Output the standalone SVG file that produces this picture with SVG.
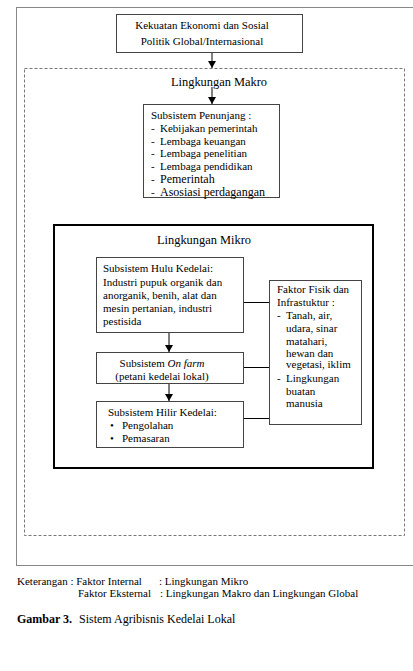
<svg xmlns="http://www.w3.org/2000/svg" width="413" height="671" viewBox="0 0 413 671">
<defs>
<marker id="ah" markerWidth="8" markerHeight="8" refX="7" refY="4" orient="auto" markerUnits="userSpaceOnUse">
<path d="M0,0 L7,4 L0,8 Z" fill="#000"/>
</marker>
<style>
text{font-family:"Liberation Serif","Times New Roman",serif;fill:#000}
.box{fill:#fff;stroke:#444;stroke-width:1}
.t11{font-size:11px}
.t12{font-size:12px}
.t13{font-size:12.4px}
.con{stroke:#000;stroke-width:1;fill:none}
.arr{stroke:#000;stroke-width:1;fill:none;marker-end:url(#ah)}
</style>
</defs>
<rect width="413" height="671" fill="#fff"/>
<g id="global-frame">
<rect x="16.5" y="7.5" width="410" height="558" fill="none" stroke="#888" stroke-width="1"/>
</g>
<g id="makro">
<rect x="24.5" y="68.5" width="380" height="467" fill="none" stroke="#777" stroke-width="1" stroke-dasharray="3,2"/>
<text x="219" y="86" class="t13" text-anchor="middle">Lingkungan Makro</text>
</g>
<g id="global">
<rect class="box" x="116.5" y="14.5" width="186" height="38"/>
<text x="202" y="29" class="t11" text-anchor="middle">Kekuatan Ekonomi dan Sosial</text>
<text x="202" y="45" class="t11" text-anchor="middle">Politik Global/Internasional</text>
</g>
<g id="penunjang">
<rect class="box" x="143.5" y="104.5" width="136" height="93"/>
<text x="151" y="119" class="t11">Subsistem Penunjang :</text>
<text x="151" y="132" class="t11">-</text><text x="160" y="132" class="t11">Kebijakan pemerintah</text>
<text x="151" y="145" class="t11">-</text><text x="160" y="145" class="t11">Lembaga keuangan</text>
<text x="151" y="157" class="t11">-</text><text x="160" y="157" class="t11">Lembaga penelitian</text>
<text x="151" y="170" class="t11">-</text><text x="160" y="170" class="t11">Lembaga pendidikan</text>
<text x="151" y="183" class="t11">-</text><text x="160" y="183" class="t12">Pemerintah</text>
<text x="151" y="196" class="t11">-</text><text x="160" y="196" class="t12">Asosiasi perdagangan</text>
</g>
<g id="mikro">
<rect x="54" y="225" width="319" height="243" fill="none" stroke="#000" stroke-width="2"/>
<text x="204" y="244" class="t13" text-anchor="middle">Lingkungan Mikro</text>
</g>
<g id="connectors">
<line class="arr" x1="212" y1="53" x2="212" y2="68"/>
<line class="arr" x1="212" y1="87" x2="212" y2="104"/>
<line class="arr" x1="169" y1="333" x2="169" y2="352"/>
<line class="arr" x1="169" y1="384" x2="169" y2="401"/>
<line class="con" x1="244" y1="302.5" x2="269" y2="302.5"/>
<line class="con" x1="244" y1="367.5" x2="269" y2="367.5"/>
<line class="con" x1="244" y1="418.5" x2="269" y2="418.5"/>
</g>
<g id="hulu">
<rect class="box" x="96.5" y="257.5" width="147" height="75"/>
<text x="103" y="272" class="t11">Subsistem Hulu Kedelai:</text>
<text x="103" y="286" class="t11">Industri pupuk organik dan</text>
<text x="103" y="299" class="t11">anorganik, benih, alat dan</text>
<text x="103" y="312" class="t11">mesin pertanian, industri</text>
<text x="103" y="325" class="t11">pestisida</text>
</g>
<g id="onfarm">
<rect class="box" x="96.5" y="352.5" width="147" height="31"/>
<text x="162" y="367" class="t11" text-anchor="middle">Subsistem <tspan font-style="italic">On farm</tspan></text>
<text x="162" y="380" class="t11" text-anchor="middle">(petani kedelai lokal)</text>
</g>
<g id="hilir">
<rect class="box" x="96.5" y="401.5" width="147" height="46"/>
<text x="108" y="416" class="t11">Subsistem Hilir Kedelai:</text>
<text x="110" y="429" class="t11">•</text><text x="122" y="429" class="t11">Pengolahan</text>
<text x="110" y="442" class="t11">•</text><text x="122" y="442" class="t11">Pemasaran</text>
</g>
<g id="faktor">
<rect class="box" x="269.5" y="280.5" width="92" height="144"/>
<text x="277" y="293" class="t11">Faktor Fisik dan</text>
<text x="277" y="306" class="t11">Infrastuktur :</text>
<text x="277" y="319" class="t11">-</text><text x="286" y="319" class="t11">Tanah, air,</text>
<text x="286" y="332" class="t11">udara, sinar</text>
<text x="286" y="345" class="t11">matahari,</text>
<text x="286" y="357" class="t11">hewan dan</text>
<text x="286" y="368" class="t11">vegetasi, iklim</text>
<text x="277" y="382" class="t11">-</text><text x="286" y="382" class="t11">Lingkungan</text>
<text x="286" y="395" class="t11">buatan</text>
<text x="286" y="407" class="t11">manusia</text>
</g>
<g id="legend">
<text x="17" y="585" class="t11">Keterangan : Faktor Internal</text>
<text x="159" y="585" class="t11">: Lingkungan Mikro</text>
<text x="78" y="597" class="t11">Faktor Eksternal</text>
<text x="160" y="597" class="t11">: Lingkungan Makro dan Lingkungan Global</text>
<text x="17" y="623" class="t12"><tspan font-weight="bold">Gambar 3.</tspan></text>
<text x="79" y="623" class="t12">Sistem Agribisnis Kedelai Lokal</text>
</g>
</svg>
